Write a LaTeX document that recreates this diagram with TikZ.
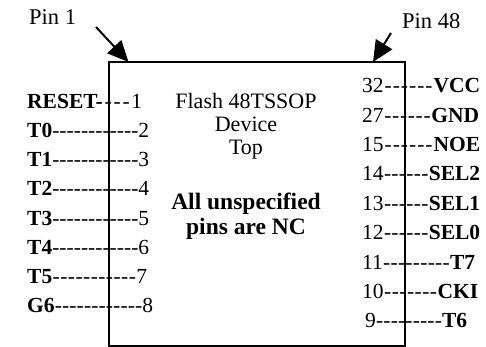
\documentclass[tikz,border=0pt]{standalone}
\usepackage{fontspec}
\setmainfont{Liberation Serif}
\usetikzlibrary{arrows.meta}
\tikzset{
  pinrow/.style={anchor=base west, inner sep=0pt, font=\fontsize{21.5}{24}\selectfont},
  centertxt/.style={anchor=base, inner sep=0pt, font=\fontsize{22}{25}\selectfont},
  centerbold/.style={anchor=base, inner sep=0pt, font=\fontsize{23.5}{26}\selectfont\bfseries},
  pinlabel/.style={anchor=base west, inner sep=0pt, font=\fontsize{22.5}{25}\selectfont},
  pinarrow/.style={line width=2pt, -{Triangle[length=21pt,width=19pt]}},
}
\newcommand{\dashrow}[3]{\hbox to #1pt{#2\xleaders\hbox{-}\hfill #3}}
\begin{document}
\begin{tikzpicture}[x=1pt,y=-1pt]
\useasboundingbox (0,0) rectangle (486,347);
% chip body
\draw[line width=2pt] (108.5,62) rectangle (404.5,345.5);
\node[draw=none, inner sep=0pt, minimum width=296pt, minimum height=283.5pt] (chip) at (256.5,203.75) {};
% pin markers
\node[pinlabel] (pin1) at (29,25) {Pin 1};
\node[pinlabel] (pin48) at (402,29) {Pin 48};
\coordinate (t1) at (96,27);
\coordinate (h1) at (128.5,62);
\coordinate (t48) at (391,33);
\coordinate (h48) at (373,62);
\draw[pinarrow] (t1) -- (h1);
\draw[pinarrow] (t48) -- (h48);
% center text
\node[centertxt] (c1) at (246,109) {Flash 48TSSOP};
\node[centertxt] (c2) at (246,132) {Device};
\node[centertxt] (c3) at (246,155) {Top};
\node[centerbold] (c4) at (246,209) {All unspecified};
\node[centerbold] (c5) at (246,234) {pins are NC};
% left pins
\node[pinrow] (l1) at (27,109) {\dashrow{115}{\textbf{RESET-}}{1}};
\node[pinrow] (l2) at (27,138) {\dashrow{122}{\textbf{T0}}{2}};
\node[pinrow] (l3) at (27,167) {\dashrow{122}{\textbf{T1}}{3}};
\node[pinrow] (l4) at (27,196) {\dashrow{122}{\textbf{T2}}{4}};
\node[pinrow] (l5) at (27,225) {\dashrow{122}{\textbf{T3}}{5}};
\node[pinrow] (l6) at (27,254) {\dashrow{122}{\textbf{T4}}{6}};
\node[pinrow] (l7) at (27,283) {\dashrow{120}{\textbf{T5}}{7}};
\node[pinrow] (l8) at (27,312) {\dashrow{126}{\textbf{G6}}{8}};
% right pins
\node[pinrow] (r1) at (362,93) {\dashrow{118}{32}{\textbf{VCC}}};
\node[pinrow] (r2) at (362,123) {\dashrow{117}{27}{\textbf{GND}}};
\node[pinrow] (r3) at (362,152) {\dashrow{118}{15}{\textbf{NOE}}};
\node[pinrow] (r4) at (362,181) {\dashrow{118}{14}{\textbf{SEL2}}};
\node[pinrow] (r5) at (362,210) {\dashrow{118}{13}{\textbf{SEL1}}};
\node[pinrow] (r6) at (362,239) {\dashrow{118}{12}{\textbf{SEL0}}};
\node[pinrow] (r7) at (362,269) {\dashrow{113}{11}{\textbf{T7}}};
\node[pinrow] (r8) at (362,298) {\dashrow{116}{10}{\textbf{CKI}}};
\node[pinrow] (r9) at (365,327) {\dashrow{102}{9}{\textbf{T6}}};
\end{tikzpicture}
\end{document}
